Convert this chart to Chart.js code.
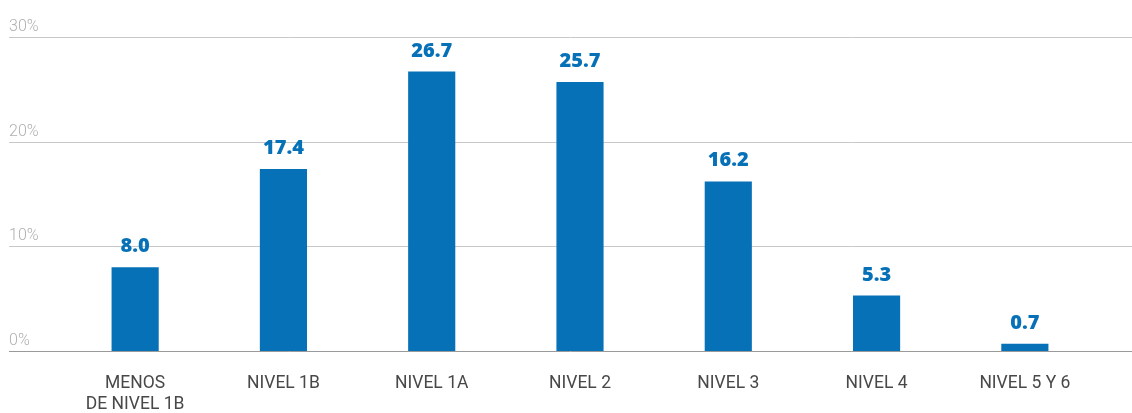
<!DOCTYPE html>
<html lang="es">
<head>
  <meta charset="UTF-8">
  <title>Niveles de desempeño</title>
  <script src="https://cdn.jsdelivr.net/npm/chart.js"></script>
  <style>
    html, body {
      margin: 0;
      padding: 0;
      background: #fff;
    }
    #wrap {
      width: 1132px;
      height: 413px;
    }
  </style>
</head>
<body>
  <div id="wrap"><canvas id="nivelesChart"></canvas></div>
  <script>
    const categories = [['MENOS', 'DE NIVEL 1B'], 'NIVEL 1B', 'NIVEL 1A', 'NIVEL 2', 'NIVEL 3', 'NIVEL 4', 'NIVEL 5 Y 6'];
    const values = [8.0, 17.4, 26.7, 25.7, 16.2, 5.3, 0.7];
    const yTicks = [0, 10, 20, 30];

    const blue = '#0771b8';

    // horizontal grid lines + percent labels, drawn across the full canvas width
    const fullGrid = {
      id: 'fullGrid',
      beforeDatasetsDraw(chart) {
        const ctx = chart.ctx;
        const y = chart.scales.y;
        ctx.save();
        yTicks.forEach(t => {
          const py = Math.round(y.getPixelForValue(t)) + 0.5;
          ctx.strokeStyle = t === 0 ? '#9a9a9a' : '#c8c8c8';
          ctx.lineWidth = 1;
          ctx.beginPath();
          ctx.moveTo(9, py);
          ctx.lineTo(chart.width, py);
          ctx.stroke();
          ctx.fillStyle = '#b0b0b0';
          ctx.font = '300 16px Roboto';
          ctx.textBaseline = 'alphabetic';
          ctx.textAlign = 'left';
          ctx.fillText(t + '%', 9, py - 7);
        });
        ctx.restore();
      }
    };

    // value above each bar
    const barValues = {
      id: 'barValues',
      afterDatasetsDraw(chart) {
        const ctx = chart.ctx;
        const meta = chart.getDatasetMeta(0);
        ctx.save();
        ctx.fillStyle = blue;
        ctx.font = '800 20px "Open Sans"';
        ctx.textAlign = 'center';
        ctx.textBaseline = 'alphabetic';
        meta.data.forEach((bar, i) => {
          ctx.fillText(values[i].toFixed(1), bar.x, bar.y - 15);
        });
        ctx.restore();
      }
    };

    new Chart(document.getElementById('nivelesChart'), {
      type: 'bar',
      data: {
        labels: categories,
        datasets: [{
          data: values,
          backgroundColor: blue,
          borderWidth: 0,
          categoryPercentage: 1,
          barPercentage: 0.318
        }]
      },
      options: {
        responsive: true,
        maintainAspectRatio: false,
        animation: false,
        layout: { padding: { left: 61, right: 33, top: 37, bottom: 0 } },
        plugins: {
          legend: { display: false },
          tooltip: { enabled: false }
        },
        scales: {
          x: {
            grid: { display: false, drawTicks: false },
            border: { display: false },
            afterFit(scale) { scale.height = 62; },
            ticks: {
              padding: 22,
              color: '#484848',
              font: { family: 'Roboto', size: 17.5, lineHeight: 1.2 },
              maxRotation: 0,
              autoSkip: false
            }
          },
          y: {
            display: false,
            min: 0,
            max: 30
          }
        }
      },
      plugins: [fullGrid, barValues]
    });
  </script>
</body>
</html>
